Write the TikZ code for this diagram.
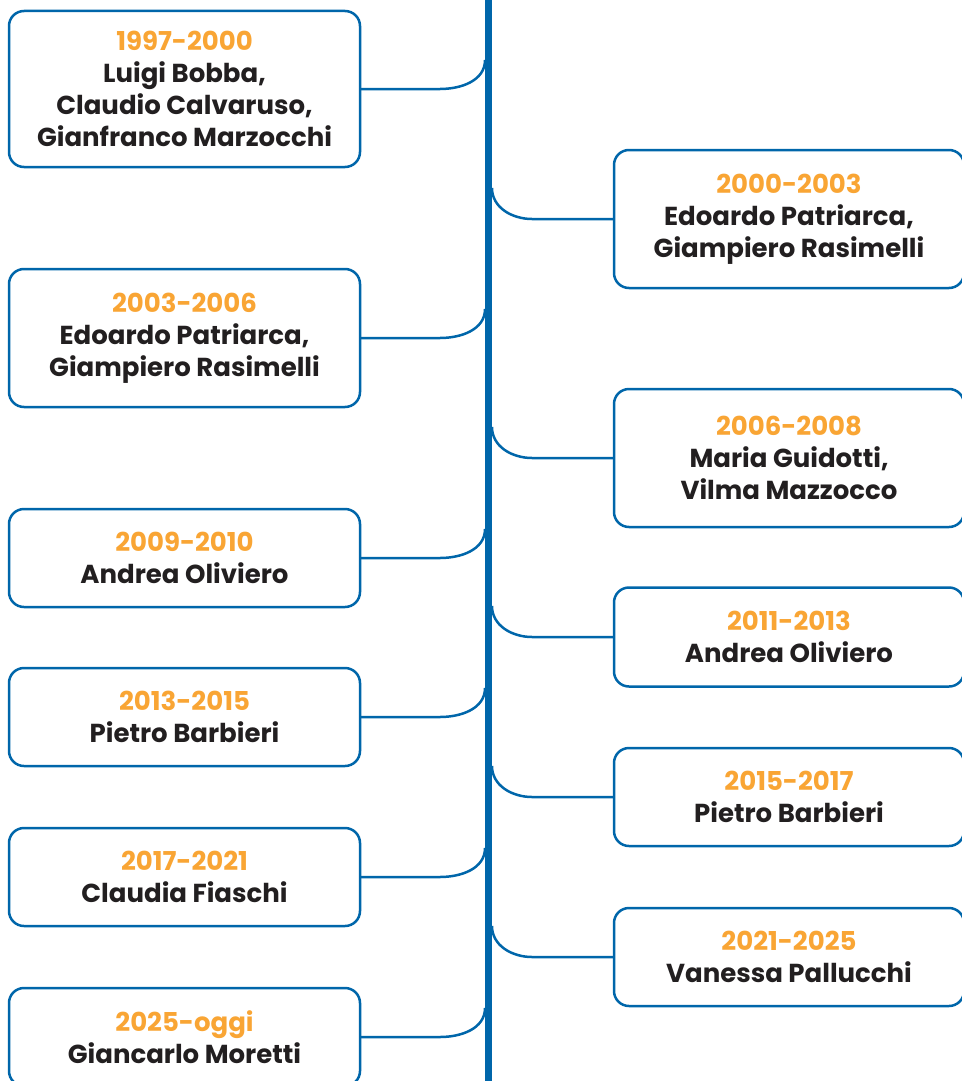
\documentclass[tikz,border=0pt]{standalone}
\usepackage{fontspec}
\setmainfont{Poppins}
\usepackage{xcolor}

\begin{document}
\begin{tikzpicture}[x=1pt, y=1pt, inner sep=0pt, outer sep=0pt]

    % style
    \definecolor{myblue}{RGB}{0, 102, 170}
    \definecolor{myorange}{RGB}{249, 165, 52}
    \definecolor{mydark}{RGB}{34, 31, 32}
    \tikzset{
        box/.style={rectangle, rounded corners=15pt, draw=myblue, line width=2.5pt, fill=white, align=center, text=mydark, font=\fontsize{26}{32}\selectfont\bfseries},
        link/.style={draw=myblue, line width=2.5pt},
        spine/.style={draw=myblue, line width=7pt}
    }

    % fixed page size
    \useasboundingbox (0,0) rectangle (961,-1081);

    % the central line
    \coordinate (SpineTop) at (488,0);
    \coordinate (SpineBottom) at (488,-1081);
    \draw [spine] (SpineTop) -- (SpineBottom);

    % left column
    \foreach \n/\cy/\h/\yrs/\who in {1/89/156/1997-2000/{Luigi Bobba,\\Claudio Calvaruso,\\Gianfranco Marzocchi},
        2/338/138/2003-2006/{Edoardo Patriarca,\\Giampiero Rasimelli},
        3/558/98/2009-2010/{Andrea Oliviero},
        4/717/98/2013-2015/{Pietro Barbieri},
        5/877/98/2017-2021/{Claudia Fiaschi},
        6/1037/98/2025-oggi/{Giancarlo Moretti}}
    {
        \node [box, minimum width=351pt, minimum height=\h pt] (L\n) at (184.5,-\cy) {{\color{myorange}\yrs}\\\who};
        \coordinate (sL\n) at (485,-\cy+29);
        \draw [link] (L\n.east) -- ++(80,0) to[out=0,in=-90] (sL\n); % bend up into the line
    }

    % right column
    \foreach \n/\cy/\h/\yrs/\who in {1/219/138/2000-2003/{Edoardo Patriarca,\\Giampiero Rasimelli},
        2/458/138/2006-2008/{Maria Guidotti,\\Vilma Mazzocco},
        3/637/99/2011-2013/{Andrea Oliviero},
        4/797/98/2015-2017/{Pietro Barbieri},
        5/957/98/2021-2025/{Vanessa Pallucchi}}
    {
        \node [box, minimum width=350pt, minimum height=\h pt] (R\n) at (789,-\cy) {{\color{myorange}\yrs}\\\who};
        \coordinate (sR\n) at (492,-\cy+31);
        \draw [link] (R\n.west) -- ++(-82,0) to[out=180,in=-90] (sR\n); % bend up into the line
    }

\end{tikzpicture}
\end{document}
